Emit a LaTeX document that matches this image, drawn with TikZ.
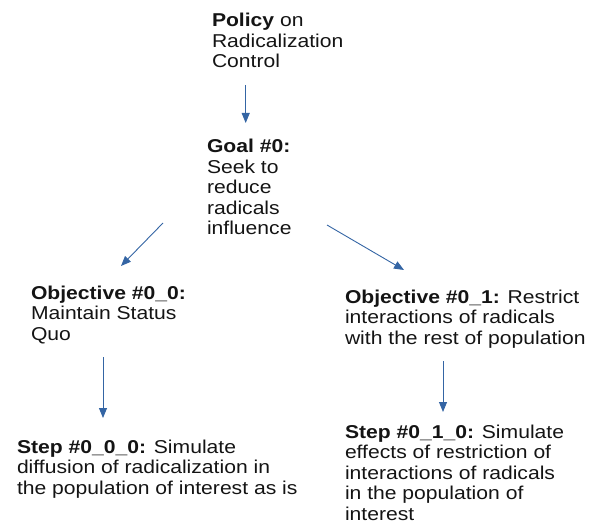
\documentclass[tikz,border=0pt]{standalone}
\usepackage{fontspec}
\usepackage{graphicx}
\setmainfont{Liberation Sans}
\usetikzlibrary{arrows.meta}
\definecolor{arrblue}{RGB}{52,101,164}
\definecolor{txt}{RGB}{20,20,20}
\newcommand{\lbl}[1]{\scalebox{1.135}[1]{\begin{tabular}[t]{@{}l@{}}#1\end{tabular}}}
\tikzset{
  box/.style={anchor=base west, inner sep=0pt, outer sep=0pt, text=txt,
    font=\fontsize{18.6}{20.6}\selectfont},
  arr/.style={draw=arrblue, line width=0.9pt, -{Triangle[length=10pt,width=8pt]}}
}
\begin{document}
\begin{tikzpicture}[x=1pt,y=1pt]
\useasboundingbox (0,0) rectangle (601,-521);
\node[box] (policy) at (212,-26.5) {\lbl{\textbf{Policy} on\\Radicalization\\Control}};
\node[box] (goal) at (207,-152.5) {\lbl{\textbf{Goal \#0:}\\Seek to\\reduce\\radicals\\influence}};
\node[box] (obj0) at (31,-299) {\lbl{\textbf{Objective \#0\_0:}\\Maintain Status\\Quo}};
\node[box] (obj1) at (345,-303) {\lbl{\textbf{Objective \#0\_1:} Restrict\\interactions of radicals\\with the rest of population}};
\node[box] (step0) at (17,-453) {\lbl{\textbf{Step \#0\_0\_0:} Simulate\\diffusion of radicalization in\\the population of interest as is}};
\node[box] (step1) at (345,-438) {\lbl{\textbf{Step \#0\_1\_0:} Simulate\\effects of restriction of\\interactions of radicals\\in the population of\\interest}};
\coordinate (p1s) at (245.7,-85);
\coordinate (p1e) at (245.7,-123);
\coordinate (g0s) at (163,-223);
\coordinate (g0e) at (121,-266);
\coordinate (g1s) at (327,-225);
\coordinate (g1e) at (404,-270);
\coordinate (o0s) at (103,-357);
\coordinate (o0e) at (103,-418);
\coordinate (o1s) at (443,-361);
\coordinate (o1e) at (443,-412);
\draw[arr] (p1s) -- (p1e);
\draw[arr] (g0s) -- (g0e);
\draw[arr] (g1s) -- (g1e);
\draw[arr] (o0s) -- (o0e);
\draw[arr] (o1s) -- (o1e);
\end{tikzpicture}
\end{document}
